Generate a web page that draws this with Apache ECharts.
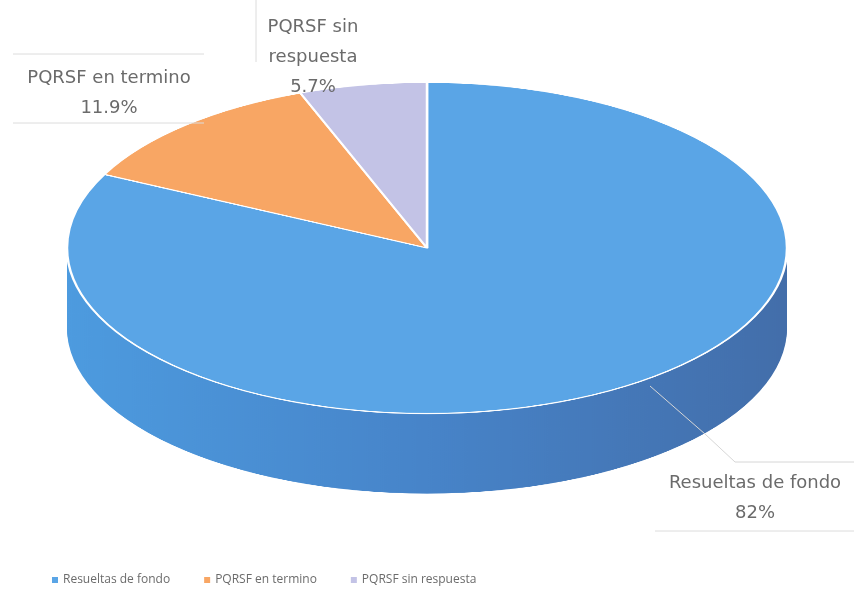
<!DOCTYPE html>
<html>
<head>
<meta charset="utf-8">
<script src="https://cdn.jsdelivr.net/npm/echarts@6/dist/echarts.min.js"></script>
<style>
  body { margin: 0; background: #fff; }
  #wrap { position: relative; width: 854px; height: 600px; overflow: hidden; }
  #pie { position: absolute; left: 0; top: 0; width: 854px; height: 1100px;
         transform: scaleY(0.46); transform-origin: 0 0; }
  #over { position: absolute; left: 0; top: 0; width: 854px; height: 600px; }
</style>
</head>
<body>
<div id="wrap">
  <div id="pie"></div>
  <div id="over"></div>
</div>
<script>
// datos
const categories = ['Resueltas de fondo', 'PQRSF en termino', 'PQRSF sin respuesta'];
const values = [82, 11.9, 5.7];
const pctLabels = ['82%', '11.9%', '5.7%'];

const topColors = ['#5AA5E6', '#F8A664', '#C3C3E6'];
const sideColors = [
  { type: 'linear', x: 67, y: 0, x2: 787, y2: 0, global: true,
    colorStops: [{ offset: 0, color: '#4D9BDF' }, { offset: 0.5, color: '#4784C9' }, { offset: 1, color: '#436EAA' }] },
  '#D98A4E',
  '#A5A5C8'
];

// geometria (antes de escalar en vertical)
const cx = 427, cy = 539, R = 360, depth = 174, layers = 40;

function pieData(colors, border) {
  return categories.map((name, i) => ({
    name: name,
    value: values[i],
    itemStyle: border ? { color: colors[i], borderColor: '#fff', borderWidth: 2.5 } : { color: colors[i] }
  }));
}

var series = [];
// lados del pastel (capas apiladas)
for (let i = 0; i <= layers; i++) {
  series.push({
    type: 'pie',
    silent: true,
    radius: R,
    center: [cx, cy + depth * (1 - i / layers)],
    label: { show: false },
    labelLine: { show: false },
    emphasis: { disabled: true },
    data: pieData(sideColors, false)
  });
}
// cara superior
series.push({
  type: 'pie',
  silent: true,
  radius: R,
  center: [cx, cy],
  label: { show: false },
  labelLine: { show: false },
  emphasis: { disabled: true },
  data: pieData(topColors, true)
});

var pieChart = echarts.init(document.getElementById('pie'));
pieChart.setOption({ animation: false, series: series });

// etiquetas y leyenda
var txt = {
  fontFamily: 'DejaVu Sans',
  fontSize: 18,
  lineHeight: 30,
  fill: '#6b6b6b',
  align: 'center'
};
var boxLine = { stroke: '#dcdcdc', lineWidth: 1 };

var over = echarts.init(document.getElementById('over'));
over.setOption({
  animation: false,
  color: topColors,
  legend: {
    data: categories,
    left: 47,
    top: 569,
    icon: 'rect',
    itemWidth: 6,
    itemHeight: 6,
    itemGap: 34,
    textStyle: { fontFamily: 'Open Sans', fontSize: 12, color: '#6b6b6b' }
  },
  series: [{
    type: 'pie',
    radius: 0,
    center: [-100, -100],
    silent: true,
    label: { show: false },
    data: categories.map((n, i) => ({ name: n, value: values[i] }))
  }],
  graphic: [
    { type: 'line', shape: { x1: 13, y1: 54, x2: 204, y2: 54 }, style: boxLine },
    { type: 'line', shape: { x1: 13, y1: 123, x2: 204, y2: 123 }, style: boxLine },
    { type: 'text', x: 109, y: 63,
      style: Object.assign({ text: categories[1] + '\n' + pctLabels[1], x: 0, y: 0 }, txt) },
    { type: 'line', shape: { x1: 256, y1: 0, x2: 256, y2: 62 }, style: boxLine },
    { type: 'text', x: 313, y: 12,
      style: Object.assign({ text: categories[2].replace(' respuesta', '\nrespuesta') + '\n' + pctLabels[2], x: 0, y: 0 }, txt) },
    { type: 'polyline', shape: { points: [[650, 386], [705, 434], [735, 462], [854, 462]] },
      style: { stroke: '#d6d6d6', lineWidth: 1, fill: null } },
    { type: 'line', shape: { x1: 655, y1: 531, x2: 854, y2: 531 }, style: boxLine },
    { type: 'text', x: 755, y: 468,
      style: Object.assign({ text: categories[0] + '\n' + pctLabels[0], x: 0, y: 0 }, txt) }
  ]
});
</script>
</body>
</html>
